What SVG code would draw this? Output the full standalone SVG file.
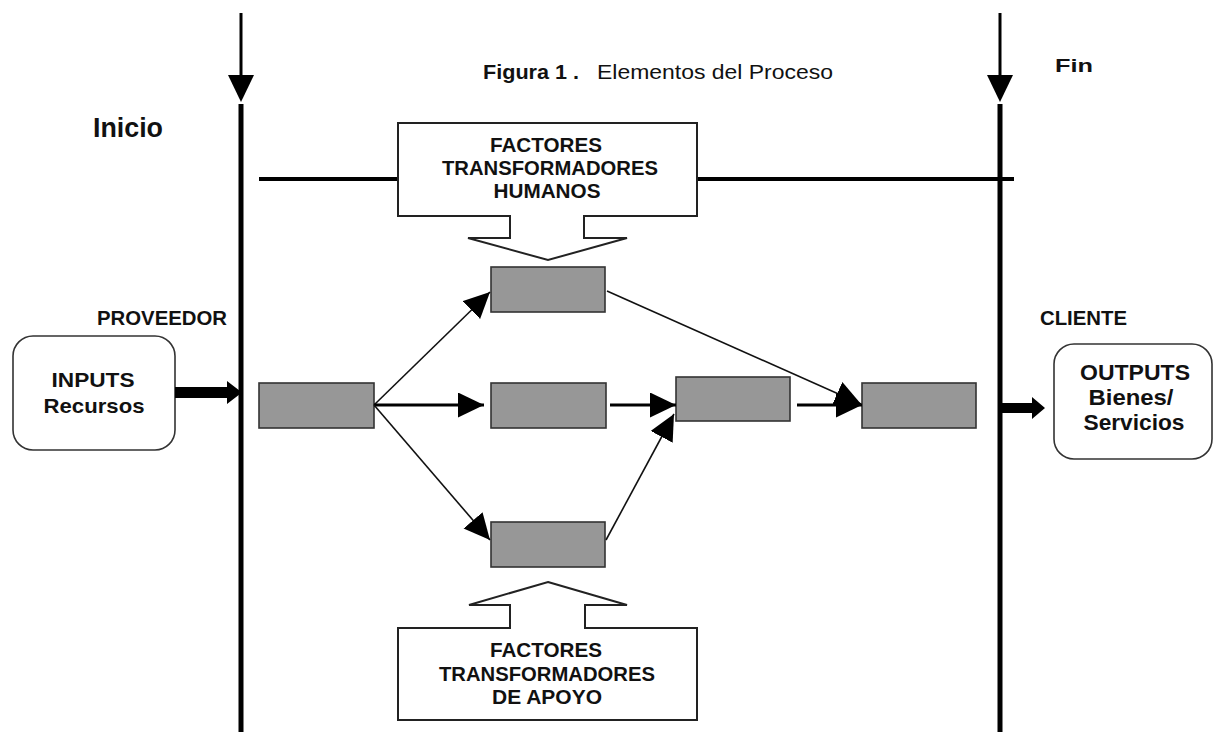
<svg xmlns="http://www.w3.org/2000/svg" width="1213" height="732" viewBox="0 0 1213 732">
<style>
.b{font-family:"Liberation Sans",Arial,sans-serif;font-weight:bold;fill:#111}
.r{font-family:"Liberation Sans",Arial,sans-serif;fill:#111}
.gray{fill:#979797;stroke:#333;stroke-width:1.6}
.big{fill:#fff;stroke:#222;stroke-width:2}
.rb{fill:#fff;stroke:#333;stroke-width:1.6}
.thin{stroke:#111;stroke-width:1.6;fill:none}
.thick{stroke:#000;stroke-width:3.2;fill:none}
</style>
<defs>
<marker id="ah" markerUnits="userSpaceOnUse" markerWidth="28" markerHeight="26" refX="26" refY="12.5" orient="auto" viewBox="0 0 28 26">
<path d="M0,0 L26,12.5 L0,25 Z" fill="#000"/>
</marker>
</defs>
<rect width="1213" height="732" fill="#fff"/>

<g id="title">
<text class="b" x="483" y="79" font-size="20.5" textLength="96" lengthAdjust="spacingAndGlyphs">Figura 1 .</text>
<text class="r" x="597" y="79" font-size="20.5" textLength="236" lengthAdjust="spacingAndGlyphs">Elementos del Proceso</text>
</g>

<g id="timeline">
<line x1="241" y1="13" x2="241" y2="78" stroke="#000" stroke-width="3"/>
<polygon points="228,75 254,75 241,102" fill="#000"/>
<line x1="241" y1="104" x2="241" y2="732" stroke="#000" stroke-width="5"/>
<line x1="1000" y1="13" x2="1000" y2="78" stroke="#000" stroke-width="3"/>
<polygon points="987,75 1013,75 1000,102" fill="#000"/>
<line x1="1000" y1="104" x2="1000" y2="732" stroke="#000" stroke-width="5"/>
<line x1="259" y1="179" x2="1014" y2="179" stroke="#000" stroke-width="4"/>
</g>

<g id="labels">
<text class="b" x="93" y="137" font-size="27" textLength="70" lengthAdjust="spacingAndGlyphs">Inicio</text>
<text class="b" x="1055" y="72" font-size="19" textLength="38" lengthAdjust="spacingAndGlyphs">Fin</text>
<text class="b" x="97" y="325" font-size="20" textLength="130" lengthAdjust="spacingAndGlyphs">PROVEEDOR</text>
<text class="b" x="1040" y="325" font-size="20" textLength="87" lengthAdjust="spacingAndGlyphs">CLIENTE</text>
</g>

<g id="factores-humanos">
<path class="big" d="M398,123 H697 V216 H584 V238 H627 L548,260 L468,238 H510 V216 H398 Z"/>
<text class="b" x="546" y="152" font-size="20.5" text-anchor="middle" textLength="112" lengthAdjust="spacingAndGlyphs">FACTORES</text>
<text class="b" x="550" y="175" font-size="20.5" text-anchor="middle" textLength="216" lengthAdjust="spacingAndGlyphs">TRANSFORMADORES</text>
<text class="b" x="547" y="198" font-size="20.5" text-anchor="middle" textLength="107" lengthAdjust="spacingAndGlyphs">HUMANOS</text>
</g>

<g id="factores-apoyo">
<path class="big" d="M548,582 L627,605 H585 V628 H697 V720 H398 V628 H510 V605 H469 Z"/>
<text class="b" x="546" y="657" font-size="20.5" text-anchor="middle" textLength="112" lengthAdjust="spacingAndGlyphs">FACTORES</text>
<text class="b" x="547" y="681" font-size="20.5" text-anchor="middle" textLength="216" lengthAdjust="spacingAndGlyphs">TRANSFORMADORES</text>
<text class="b" x="547" y="704" font-size="20.5" text-anchor="middle" textLength="110" lengthAdjust="spacingAndGlyphs">DE APOYO</text>
</g>

<g id="inputs">
<rect class="rb" x="13" y="336" width="162" height="114" rx="20"/>
<text class="b" x="93" y="387" font-size="21" text-anchor="middle" textLength="83" lengthAdjust="spacingAndGlyphs">INPUTS</text>
<text class="b" x="94" y="413" font-size="21" text-anchor="middle" textLength="101" lengthAdjust="spacingAndGlyphs">Recursos</text>
</g>

<g id="outputs">
<rect class="rb" x="1054" y="344" width="158" height="115" rx="20"/>
<text class="b" x="1135" y="380" font-size="22" text-anchor="middle" textLength="110" lengthAdjust="spacingAndGlyphs">OUTPUTS</text>
<text class="b" x="1131" y="405" font-size="22" text-anchor="middle" textLength="85" lengthAdjust="spacingAndGlyphs">Bienes/</text>
<text class="b" x="1134" y="430" font-size="22" text-anchor="middle" textLength="101" lengthAdjust="spacingAndGlyphs">Servicios</text>
</g>

<g id="n-start"><rect class="gray" x="259" y="383" width="115" height="45"/></g>
<g id="n-top"><rect class="gray" x="491" y="267" width="114" height="45"/></g>
<g id="n-mid"><rect class="gray" x="491" y="383" width="115" height="45"/></g>
<g id="n-bottom"><rect class="gray" x="491" y="522" width="114" height="45"/></g>
<g id="n-join"><rect class="gray" x="676" y="377" width="114" height="44"/></g>
<g id="n-end"><rect class="gray" x="862" y="383" width="114" height="45"/></g>

<g id="connectors">
<polygon points="175,387 227,387 227,381 242,392.5 227,404 227,398 175,398" fill="#000"/>
<polygon points="1002,403 1032,403 1032,397 1045,408 1032,419 1032,413 1002,413" fill="#000"/>
<line class="thin" x1="374" y1="405" x2="490" y2="292" marker-end="url(#ah)"/>
<line class="thick" x1="374" y1="405" x2="484" y2="405" marker-end="url(#ah)"/>
<line class="thin" x1="374" y1="405" x2="490" y2="540" marker-end="url(#ah)"/>
<line class="thick" x1="610" y1="405" x2="676" y2="405" marker-end="url(#ah)"/>
<line class="thin" x1="606" y1="540" x2="674" y2="414" marker-end="url(#ah)"/>
<line class="thick" x1="797" y1="405" x2="862" y2="405" marker-end="url(#ah)"/>
<line class="thin" x1="607" y1="291" x2="861" y2="404" marker-end="url(#ah)"/>
</g>
</svg>
